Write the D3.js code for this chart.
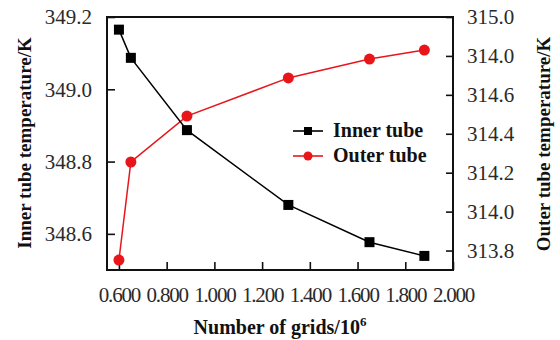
<!DOCTYPE html>
<html>
<head>
<meta charset="utf-8">
<script src="https://cdn.jsdelivr.net/npm/d3@7/dist/d3.min.js"></script>
<style>
  html, body { margin: 0; padding: 0; background: #ffffff; }
  svg { display: block; }
  svg text { font-family: 'Liberation Serif', 'Times New Roman', serif; }
</style>
</head>
<body>
<script>
// Grid independence study: wall temperatures vs. mesh size
const grids      = [0.6, 0.65, 0.885, 1.31, 1.65, 1.88];          // number of grids / 10^6
const innerTemp  = [349.165, 349.087, 348.887, 348.68, 348.577, 348.539]; // K, left axis
const outerTemp  = [313.751, 314.255, 314.491, 314.687, 314.784, 314.83];  // K, right axis

const xTicks      = [0.6, 0.8, 1.0, 1.2, 1.4, 1.6, 1.8, 2.0];
const xTickLabels = ["0.600", "0.800", "1.000", "1.200", "1.400", "1.600", "1.800", "2.000"];
const leftTicks   = [348.6, 348.8, 349.0, 349.2];
const leftLabels  = ["348.6", "348.8", "349.0", "349.2"];
const rightTicks  = [313.8, 314.0, 314.2, 314.4, 314.6, 314.8, 315.0];
const rightLabels = ["313.8", "314.0", "314.2", "314.4", "314.6", "314.0", "315.0"];

const seriesNames = ["Inner tube", "Outer tube"];
const colors = ["#000000", "#e8161b"];

const W = 560, H = 340;
const m = { left: 107, right: 453, top: 17, bottom: 270 };
const font = "'Liberation Serif', 'Times New Roman', serif";

const svg = d3.select("body").append("svg").attr("width", W).attr("height", H);

const x  = d3.scaleLinear().domain([0.55, 2.0]).range([m.left, m.right]);
const yL = d3.scaleLinear().domain([348.5, 349.2]).range([m.bottom, m.top]);
const yR = d3.scaleLinear().domain([313.7, 315.0]).range([m.bottom, m.top]);

// Axes with inward ticks
const xAxis = svg.append("g").attr("transform", `translate(0,${m.bottom})`)
  .call(d3.axisBottom(x).tickValues(xTicks).tickSizeInner(-8).tickSizeOuter(0)
        .tickPadding(17).tickFormat((d, i) => xTickLabels[i]));
const lAxis = svg.append("g").attr("transform", `translate(${m.left},0)`)
  .call(d3.axisLeft(yL).tickValues(leftTicks).tickSizeInner(-8).tickSizeOuter(0)
        .tickPadding(15).tickFormat((d, i) => leftLabels[i]));
const rAxis = svg.append("g").attr("transform", `translate(${m.right},0)`)
  .call(d3.axisRight(yR).tickValues(rightTicks).tickSizeInner(-7).tickSizeOuter(0)
        .tickPadding(14).tickFormat((d, i) => rightLabels[i]));

[xAxis, lAxis, rAxis].forEach(g => {
  g.attr("font-family", font).attr("font-size", 21);
  g.select(".domain").remove();
  g.selectAll(".tick line").attr("stroke", "#111").attr("stroke-width", 1.6);
  g.selectAll(".tick text").attr("fill", "#2a2a2a").style("font-family", font).style("font-size", "21px");
});
xAxis.selectAll(".tick text").style("letter-spacing", "-1.2px");

// Frame
svg.append("rect")
  .attr("x", m.left).attr("y", m.top)
  .attr("width", m.right - m.left).attr("height", m.bottom - m.top)
  .attr("fill", "none").attr("stroke", "#111").attr("stroke-width", 2);

// Series
const inner = grids.map((g, i) => ({ x: g, y: innerTemp[i] }));
const outer = grids.map((g, i) => ({ x: g, y: outerTemp[i] }));

svg.append("path").datum(outer)
  .attr("fill", "none").attr("stroke", colors[1]).attr("stroke-width", 1.5)
  .attr("d", d3.line().x(d => x(d.x)).y(d => yR(d.y)));
svg.append("path").datum(inner)
  .attr("fill", "none").attr("stroke", colors[0]).attr("stroke-width", 1.5)
  .attr("d", d3.line().x(d => x(d.x)).y(d => yL(d.y)));

svg.selectAll("rect.sq").data(inner).join("rect").attr("class", "sq")
  .attr("x", d => x(d.x) - 5).attr("y", d => yL(d.y) - 5)
  .attr("width", 10).attr("height", 10).attr("fill", colors[0]);
svg.selectAll("circle.pt").data(outer).join("circle").attr("class", "pt")
  .attr("cx", d => x(d.x)).attr("cy", d => yR(d.y)).attr("r", 5.5).attr("fill", colors[1]);

// Legend
const leg = svg.append("g").attr("transform", "translate(293,131)");
seriesNames.forEach((name, i) => {
  const g = leg.append("g").attr("transform", `translate(0,${i * 25})`);
  g.append("line").attr("x1", 0).attr("x2", 30).attr("y1", 0).attr("y2", 0)
    .attr("stroke", colors[i]).attr("stroke-width", 1.6);
  if (i === 0) g.append("rect").attr("x", 11).attr("y", -4).attr("width", 8).attr("height", 8).attr("fill", colors[0]);
  else g.append("circle").attr("cx", 15).attr("cy", 0).attr("r", 4.5).attr("fill", colors[1]);
  g.append("text").attr("x", 40).attr("y", 6).text(name)
    .style("font-family", font).style("font-weight", "bold").style("font-size", "20px").attr("fill", "#111");
});

// Axis titles
svg.append("text")
  .attr("transform", `translate(31,143) rotate(-90)`)
  .attr("text-anchor", "middle").text("Inner tube temperature/K")
  .style("font-family", font).style("font-weight", "bold").style("font-size", "19px").attr("fill", "#111");
svg.append("text")
  .attr("transform", `translate(550,144) rotate(-90)`)
  .attr("text-anchor", "middle").text("Outer tube temperature/K")
  .style("font-family", font).style("font-weight", "bold").style("font-size", "19px").attr("fill", "#111");

const xt = svg.append("text").attr("x", 280).attr("y", 334).attr("text-anchor", "middle")
  .style("font-family", font).style("font-weight", "bold").style("font-size", "20px").attr("fill", "#111");
xt.append("tspan").text("Number of grids/10");
xt.append("tspan").attr("dy", -8).style("font-size", "13px").text("6");
</script>
</body>
</html>
